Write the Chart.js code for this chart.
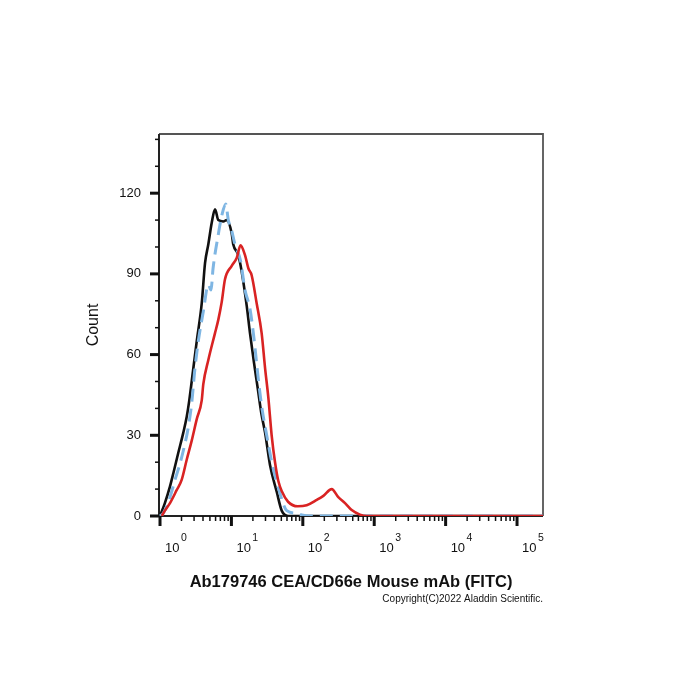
<!DOCTYPE html>
<html>
<head>
<meta charset="utf-8">
<script src="https://cdn.jsdelivr.net/npm/chart.js@4"></script>
<style>
  html, body { margin: 0; padding: 0; background: #fff; }
  canvas { display: block; }
</style>
</head>
<body>
<canvas id="histo" width="700" height="700"></canvas>
<script>
// Fluorescence intensity (x) and event count (y)
const blackX = [1, 1.17, 1.38, 1.54, 1.80, 2.12, 2.37, 2.57, 2.90, 3.27, 3.84, 4.27, 4.75, 5.30, 5.89, 6.56, 7.71, 8.59, 10.1, 10.6, 12.5, 13.9, 16.4, 18.2, 20.7, 23.5, 26.3, 29.6, 34.7, 43.1, 50.6, 62.1, 231000];
const blackY = [0, 4.8, 11, 16, 23.4, 31, 37, 43, 54, 65, 79, 94, 101, 109, 114, 110, 109.5, 110, 105, 101, 97, 91, 78, 68, 57, 47, 38, 31, 19, 9, 2, 0, 0];

const blueX = [1, 1.11, 1.38, 1.62, 1.91, 2.24, 2.49, 2.78, 3.09, 3.44, 4.04, 4.75, 5.18, 5.53, 6.49, 7.38, 8.33, 9.05, 10.1, 11.2, 13.4, 15.5, 18.2, 20.7, 24.0, 26.8, 31.2, 37.0, 46.4, 59.5, 82.2, 96.5, 126, 231000];
const blueY = [0, 1, 7, 13.4, 19.6, 27, 33, 42, 55, 65, 76, 86, 84, 92, 104, 112, 116, 110, 106, 101, 95, 84, 77, 66, 50, 40, 30, 19.6, 9.6, 2, 1, 0.4, 0, 0];

const redX = [1.06, 1.17, 1.38, 1.71, 2.01, 2.37, 2.78, 3.27, 3.84, 4.04, 4.75, 5.89, 6.56, 7.31, 8.13, 10.1, 11.9, 13.4, 15.5, 17.3, 19.2, 22.6, 26.5, 29.6, 32.9, 36.6, 40.8, 45.4, 51.2, 62.1, 85.1, 113, 157, 194, 254, 314, 390, 484, 632, 786, 231000];
const redY = [0, 2, 4.8, 9.6, 13.4, 21, 28, 36, 43, 49, 58, 68, 73, 79.5, 88, 93, 96, 100.6, 97, 92, 89.5, 79, 68, 55, 44, 30, 20, 13, 9, 5.3, 3.6, 4, 6, 7.5, 10, 7, 4.8, 2.2, 0.5, 0, 0];

// Axis ticks and labels
const xDecades = [1, 10, 100, 1000, 10000, 100000];
const xTickBase = '10';
const xExponents = ['0', '1', '2', '3', '4', '5'];
const yTicks = [0, 10, 20, 30, 40, 50, 60, 70, 80, 90, 100, 110, 120, 130, 140];
const yLabelled = [0, 30, 60, 90, 120];

const xTitle = 'Ab179746 CEA/CD66e Mouse mAb (FITC)';
const yTitle = 'Count';
const copyright = 'Copyright(C)2022 Aladdin Scientific.';

const FONT = "'Liberation Sans', Arial, sans-serif";
Chart.defaults.font.family = FONT;
Chart.defaults.color = '#111';

function points(xs, ys) {
    return xs.map((x, i) => ({x: x, y: ys[i]}));
}

/* Frame, axis lines, long/short tick marks and the 10^n labels. */
const axisMarks = {
    id: 'axisMarks',
    beforeDatasetsDraw(chart) {
        const {ctx, chartArea: a, scales} = chart;
        ctx.save();
        ctx.lineCap = 'butt';
        ctx.strokeStyle = '#555';
        ctx.lineWidth = 1.8;
        ctx.beginPath();
        ctx.moveTo(a.left, a.top);
        ctx.lineTo(a.right, a.top);
        ctx.lineTo(a.right, a.bottom);
        ctx.stroke();

        ctx.strokeStyle = '#222';
        ctx.lineWidth = 2;
        ctx.beginPath();
        ctx.moveTo(a.left, a.top);
        ctx.lineTo(a.left, a.bottom);
        ctx.lineTo(a.right, a.bottom);
        ctx.stroke();

        ctx.strokeStyle = '#111';
        scales.x.ticks.forEach(t => {
            const px = scales.x.getPixelForValue(t.value);
            ctx.lineWidth = t.big ? 3 : 1.5;
            ctx.beginPath();
            ctx.moveTo(px, a.bottom);
            ctx.lineTo(px, a.bottom + (t.big ? 10 : 5));
            ctx.stroke();
        });
        scales.y.ticks.forEach(t => {
            const py = scales.y.getPixelForValue(t.value);
            const big = yLabelled.includes(t.value);
            ctx.lineWidth = big ? 3 : 1.5;
            ctx.beginPath();
            ctx.moveTo(a.left, py);
            ctx.lineTo(a.left - (big ? 9 : 4), py);
            ctx.stroke();
        });
        ctx.restore();
    },
    afterDraw(chart) {
        const {ctx, chartArea: a, scales} = chart;
        ctx.save();
        ctx.fillStyle = '#111';
        ctx.textAlign = 'left';
        ctx.textBaseline = 'alphabetic';
        xDecades.forEach((d, i) => {
            const px = scales.x.getPixelForValue(d) + 5;
            ctx.font = '13px ' + FONT;
            ctx.fillText(xTickBase, px, a.bottom + 35.5);
            const w = ctx.measureText(xTickBase).width;
            ctx.font = '10.5px ' + FONT;
            ctx.fillText(xExponents[i], px + w + 1.5, a.bottom + 24.7);
        });
        ctx.restore();
    }
};

const canvas = document.getElementById('histo');
new Chart(canvas, {
    type: 'line',
    data: {
        datasets: [
            {label: 'Ab179746', data: points(redX, redY), borderColor: '#d92323', borderWidth: 2.6},
            {label: 'Isotype', data: points(blueX, blueY), borderColor: '#7fb6e3', borderWidth: 3, borderDash: [13, 7]},
            {label: 'Blank', data: points(blackX, blackY), borderColor: '#111', borderWidth: 2.6}
        ]
    },
    options: {
        responsive: false,
        animation: false,
        events: [],
        layout: {padding: {left: 80, top: 134, right: 157, bottom: 95}},
        elements: {
            point: {radius: 0},
            line: {cubicInterpolationMode: 'monotone', fill: false}
        },
        plugins: {
            legend: {display: false},
            tooltip: {enabled: false},
            title: {
                display: true,
                text: copyright,
                position: 'bottom',
                align: 'end',
                padding: 0,
                font: {size: 10, weight: 'normal'},
                color: '#111'
            }
        },
        scales: {
            x: {
                type: 'logarithmic',
                min: 0.968,
                max: 231000,
                grid: {display: false, drawTicks: false},
                border: {display: false},
                afterBuildTicks(scale) {
                    const ticks = [];
                    xDecades.forEach((d, k) => {
                        ticks.push({value: d, big: true});
                        if (k < xDecades.length - 1) {
                            for (let m = 2; m <= 9; m++) ticks.push({value: m * d, big: false});
                        }
                    });
                    scale.ticks = ticks;
                },
                afterFit(scale) { scale.height = 77; },
                ticks: {
                    autoSkip: false,
                    maxRotation: 0,
                    callback() { return ''; }
                },
                title: {
                    display: true,
                    text: xTitle,
                    font: {size: 16.5, weight: 'bold'},
                    padding: {top: 0, bottom: 1}
                }
            },
            y: {
                type: 'linear',
                min: 0,
                max: 142,
                grid: {display: false, drawTicks: false},
                border: {display: false},
                afterBuildTicks(scale) {
                    scale.ticks = yTicks.map(v => ({value: v}));
                },
                afterFit(scale) { scale.width = 79; },
                ticks: {
                    autoSkip: false,
                    padding: 18,
                    font: {size: 13},
                    callback(value) {
                        return yLabelled.includes(value) ? String(value) : '';
                    }
                },
                title: {
                    display: true,
                    text: yTitle,
                    font: {size: 16},
                    padding: {top: 4, bottom: 0}
                }
            }
        }
    },
    plugins: [axisMarks]
});
</script>
</body>
</html>
